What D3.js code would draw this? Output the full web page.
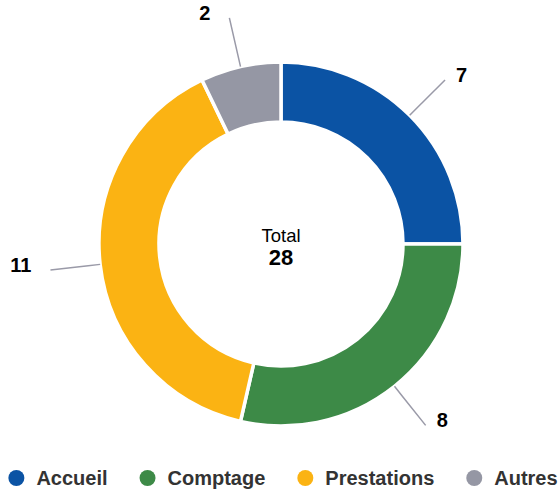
<!DOCTYPE html>
<html>
<head>
<meta charset="utf-8">
<script src="https://cdn.jsdelivr.net/npm/d3@7"></script>
<style>
  body { margin: 0; background: #fff; }
  svg { display: block; font-family: "Liberation Sans", Arial, Helvetica, sans-serif; }
</style>
</head>
<body>
<svg id="chart" width="560" height="491"></svg>
<script>
// data
const categories = ["Accueil", "Comptage", "Prestations", "Autres"];
const values = [7, 8, 11, 2];
const colors = ["#0b53a4", "#3d8a47", "#fbb313", "#9597a4"];

const width = 560, height = 491;
const cx = 281, cy = 244;
const outerR = 182, innerR = 122;

const svg = d3.select("#chart");
const g = svg.append("g").attr("transform", `translate(${cx},${cy})`);

const data = categories.map((c, i) => ({ name: c, value: values[i], color: colors[i] }));

const pie = d3.pie().value(d => d.value).sort(null);
const arcs = pie(data);

const arc = d3.arc().innerRadius(innerR).outerRadius(outerR);

// slices
g.selectAll(".slice")
  .data(arcs)
  .enter()
  .append("path")
  .attr("class", "slice")
  .attr("d", arc)
  .style("fill", d => d.data.color)
  .style("stroke", "#fff")
  .style("stroke-width", 3.5)
  .style("stroke-linejoin", "miter");

// polar helper, angle from top clockwise
const polar = (a, r) => [r * Math.sin(a), -r * Math.cos(a)];

// connectors + labels
arcs.forEach(d => {
  const mid = (d.startAngle + d.endAngle) / 2;
  const p0 = polar(mid, outerR);
  const p1 = polar(mid, outerR + 12);
  const p2 = polar(mid, outerR + 50);
  const right = p2[0] > 0;

  g.append("path")
    .attr("d", d3.line()([p0, p1, p2]))
    .style("fill", "none")
    .style("stroke", "#9a9aa8")
    .style("stroke-width", 1.5);

  g.append("text")
    .attr("x", p2[0] + (right ? 11 : -19))
    .attr("y", p2[1] - 5)
    .attr("dy", "0.35em")
    .attr("text-anchor", right ? "start" : "end")
    .style("font-size", "20px")
    .style("font-weight", "bold")
    .style("fill", "#000")
    .text(d.data.value);
});

// center text
g.append("text")
  .attr("x", 0)
  .attr("y", -8)
  .attr("dy", "0.35em")
  .attr("text-anchor", "middle")
  .style("font-size", "18.5px")
  .style("fill", "#000")
  .text("Total");

g.append("text")
  .attr("x", 0)
  .attr("y", 13)
  .attr("dy", "0.35em")
  .attr("text-anchor", "middle")
  .style("font-size", "22px")
  .style("font-weight", "bold")
  .style("fill", "#000")
  .text(d3.sum(values));

// legend
const legend = svg.append("g").attr("class", "legend");
const items = legend.selectAll(".item")
  .data(data)
  .enter()
  .append("g")
  .attr("class", "item");

items.append("circle")
  .attr("r", 8)
  .attr("cx", 0)
  .attr("cy", 0)
  .style("fill", d => d.color);

items.append("text")
  .attr("x", 20)
  .attr("y", 7)
  .style("font-size", "20px")
  .style("font-weight", "bold")
  .style("fill", "#333")
  .text(d => d.name);

let xPos = 0;
const offsets = [];
items.each(function () {
  offsets.push(xPos);
  const w = d3.select(this).select("text").node().getComputedTextLength();
  xPos += 20 + w + 40;
});
const totalW = xPos - 40 + 8;
const startX = 283 - totalW / 2 + 8;
items.attr("transform", (d, i) => `translate(${startX + offsets[i]},478)`);
</script>
</body>
</html>
